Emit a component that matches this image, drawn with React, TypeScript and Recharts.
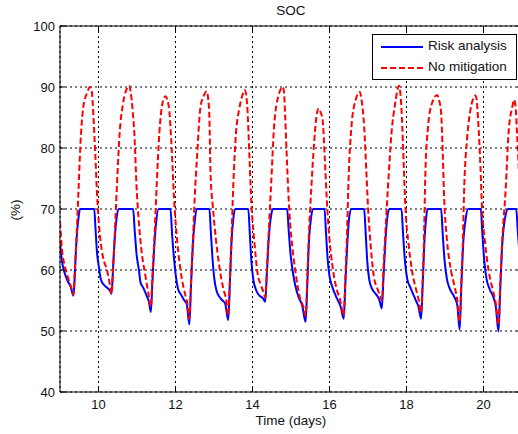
import React from "react";
import { LineChart, Line, XAxis, YAxis, CartesianGrid, ReferenceLine } from "recharts";

// SOC over time, [day, %]
const riskAnalysis: [number, number][] = [
  [9.0, 64.6], [9.05, 61.5], [9.12, 59.5], [9.2, 58.2], [9.28, 57.2], [9.35, 55.8],
  [9.39, 60], [9.43, 65], [9.48, 68.5], [9.52, 70], [9.89, 70],
  [9.92, 67], [9.96, 63], [10.01, 60.5], [10.06, 58.5], [10.15, 57.5], [10.24, 57], [10.3, 56.6], [10.34, 56.1],
  [10.38, 60.5], [10.42, 65], [10.47, 68.5], [10.52, 70], [10.9, 70],
  [10.94, 66.5], [10.99, 62.5], [11.05, 60], [11.09, 58], [11.17, 57], [11.25, 55.8], [11.31, 54.8], [11.36, 53.1],
  [11.4, 58], [11.45, 64], [11.5, 68], [11.56, 70], [11.87, 70],
  [11.91, 66], [11.96, 62], [12.01, 59], [12.07, 56.8], [12.14, 56], [12.23, 55], [12.29, 54.5], [12.36, 51.1],
  [12.4, 57], [12.45, 64], [12.5, 68], [12.55, 70], [12.88, 70],
  [12.92, 66], [12.96, 62], [13.0, 59], [13.07, 56.5], [13.14, 55.6], [13.22, 55], [13.29, 54.5], [13.37, 51.8],
  [13.41, 57.5], [13.45, 64], [13.5, 68.3], [13.55, 70], [13.89, 70],
  [13.93, 66], [13.97, 61.5], [14.02, 58.5], [14.1, 56.6], [14.2, 55.7], [14.27, 55.4], [14.33, 54.8],
  [14.37, 59], [14.42, 65], [14.48, 68.8], [14.53, 70], [14.9, 70],
  [14.94, 66.5], [14.99, 62.5], [15.04, 60], [15.11, 57.5], [15.2, 55.5], [15.29, 54.2], [15.38, 51.5],
  [15.42, 57], [15.46, 64], [15.52, 68.5], [15.57, 70], [15.87, 70],
  [15.91, 66], [15.95, 62], [16.0, 59], [16.07, 57.3], [16.18, 55.5], [16.29, 54], [16.37, 52],
  [16.41, 57.5], [16.46, 64], [16.51, 68.5], [16.57, 70], [16.9, 70],
  [16.94, 66], [16.98, 61.5], [17.03, 58.5], [17.1, 57], [17.21, 56], [17.29, 55.2], [17.36, 53.7],
  [17.4, 58.5], [17.45, 64.5], [17.5, 68.5], [17.55, 70], [17.87, 70],
  [17.91, 66], [17.96, 61.5], [18.02, 58.5], [18.11, 57], [18.23, 55.2], [18.31, 54], [18.38, 52],
  [18.42, 57.5], [18.46, 64], [18.51, 68.5], [18.55, 70], [18.9, 70],
  [18.94, 66], [18.99, 61.5], [19.05, 58.5], [19.12, 57], [19.24, 55.6], [19.32, 54.2], [19.38, 50.2],
  [19.42, 56.5], [19.47, 64], [19.54, 68.5], [19.6, 70], [19.93, 70],
  [19.97, 66], [20.02, 61.5], [20.08, 58.5], [20.15, 57], [20.26, 55.5], [20.32, 54], [20.39, 49.9],
  [20.43, 56], [20.48, 63.5], [20.56, 68.5], [20.64, 70], [20.85, 70],
  [20.89, 66.5], [20.94, 62.5], [21.0, 60],
];

const noMitigation: [number, number][] = [
  [9.0, 67.9], [9.05, 63.5], [9.13, 60.5], [9.22, 58.5], [9.3, 57], [9.35, 56],
  [9.39, 60.5], [9.43, 65.5], [9.48, 73], [9.53, 80.5], [9.6, 86.5], [9.7, 89], [9.78, 90], [9.82, 89.5],
  [9.87, 85], [9.92, 78.5], [9.97, 71.5], [10.04, 65.5], [10.12, 62], [10.22, 60], [10.3, 57.5], [10.34, 56.1],
  [10.38, 60.5], [10.42, 65.5], [10.48, 74], [10.55, 82.5], [10.63, 87], [10.72, 89.5], [10.8, 90.2], [10.84, 89],
  [10.89, 86], [10.93, 82.5], [10.99, 73.5], [11.04, 68.5], [11.12, 63], [11.22, 59], [11.3, 56], [11.36, 54],
  [11.4, 59], [11.45, 65], [11.51, 73.7], [11.58, 82.4], [11.66, 87.3], [11.74, 88.5], [11.78, 88],
  [11.84, 86], [11.9, 80], [11.96, 72], [12.04, 65], [12.13, 60], [12.25, 56], [12.31, 54.5], [12.36, 52],
  [12.4, 57.5], [12.45, 64.5], [12.5, 72], [12.56, 78.6], [12.65, 86.8], [12.73, 88.5], [12.81, 89.3], [12.85, 88],
  [12.88, 85.1], [12.91, 75.8], [12.97, 70.4], [13.05, 65], [13.14, 60.5], [13.24, 57], [13.32, 55], [13.37, 52.5],
  [13.41, 58], [13.45, 64.5], [13.5, 73.7], [13.57, 82.4], [13.65, 86.2], [13.73, 88.5], [13.8, 89.5], [13.84, 88.5],
  [13.87, 86.2], [13.92, 78.6], [13.97, 71], [14.05, 64.5], [14.13, 59.5], [14.22, 57.5], [14.29, 56.3], [14.33, 55.5],
  [14.37, 59.5], [14.42, 66], [14.49, 74.8], [14.56, 83.5], [14.68, 88.7], [14.79, 90], [14.82, 89],
  [14.85, 85], [14.9, 77], [14.96, 69.3], [15.04, 63.5], [15.12, 59.5], [15.23, 55.5], [15.32, 54], [15.38, 52.5],
  [15.42, 58], [15.46, 65], [15.53, 73.7], [15.6, 80.8], [15.66, 85.1], [15.72, 86.5], [15.76, 86],
  [15.82, 84.6], [15.88, 78], [15.93, 71.5], [16.0, 65], [16.08, 60.5], [16.18, 57], [16.28, 55], [16.37, 52.5],
  [16.41, 58.5], [16.45, 65], [16.5, 75.8], [16.57, 83.5], [16.68, 87.9], [16.79, 89.2], [16.83, 88],
  [16.9, 83.5], [16.96, 75.8], [17.0, 70.4], [17.07, 64], [17.15, 59], [17.24, 57], [17.31, 55.8], [17.36, 55],
  [17.4, 60], [17.45, 66], [17.52, 73.7], [17.61, 82.4], [17.7, 87.1], [17.81, 90.2], [17.84, 89],
  [17.88, 85.1], [17.93, 77], [17.97, 70.4], [18.05, 64.5], [18.14, 60], [18.24, 57], [18.32, 55], [18.38, 53],
  [18.42, 58.5], [18.45, 64], [18.49, 75.8], [18.56, 83.5], [18.66, 87.3], [18.8, 88.7], [18.84, 88],
  [18.9, 85.7], [18.94, 79.3], [18.98, 71.5], [19.05, 65], [19.14, 60.5], [19.24, 57.5], [19.32, 55], [19.38, 51.5],
  [19.42, 57.5], [19.46, 64], [19.5, 73.7], [19.57, 81.3], [19.66, 86.2], [19.79, 88.6], [19.82, 88],
  [19.86, 84.6], [19.92, 77], [19.96, 70.4], [20.04, 64.5], [20.13, 60], [20.23, 57], [20.32, 54.5], [20.39, 51],
  [20.43, 57], [20.48, 64], [20.58, 73.7], [20.65, 82.4], [20.75, 86.8], [20.79, 87.9], [20.83, 87],
  [20.87, 82.4], [20.93, 75], [21.0, 69],
];

const xTicks = [10, 12, 14, 16, 18, 20];
const yTicks = [40, 50, 60, 70, 80, 90, 100];

const FONT = "'Liberation Sans', Arial, sans-serif";
// plot box in page pixels
const PLOT = { left: 60, top: 26, right: 522, bottom: 392 };

const riskData = riskAnalysis.map(([t, v]) => ({ t, v }));
const noMitData = noMitigation.map(([t, v]) => ({ t, v }));

const XTick = (props: any) => {
  const { x, payload } = props;
  return (
    <g>
      <line x1={x} x2={x} y1={PLOT.bottom} y2={PLOT.bottom - 5} stroke="#000" />
      <line x1={x} x2={x} y1={PLOT.top} y2={PLOT.top + 5} stroke="#000" />
      <text x={x} y={PLOT.bottom + 17} textAnchor="middle" fontSize={13} fontFamily={FONT} fill="#111">
        {payload.value}
      </text>
    </g>
  );
};

const YTick = (props: any) => {
  const { y, payload } = props;
  return (
    <g>
      <line x1={PLOT.left} x2={PLOT.left + 5} y1={y} y2={y} stroke="#000" />
      <line x1={PLOT.right} x2={PLOT.right - 5} y1={y} y2={y} stroke="#000" />
      <text x={PLOT.left - 5} y={y} dy="0.36em" textAnchor="end" fontSize={13} fontFamily={FONT} fill="#111">
        {payload.value}
      </text>
    </g>
  );
};

export default function App() {
  return (
    <div
      style={{
        position: "absolute",
        left: 0,
        top: 0,
        width: 518,
        height: 434,
        overflow: "hidden",
        background: "#fff",
        fontFamily: FONT,
      }}
    >
      <LineChart width={540} height={434} margin={{ top: 26, right: 18, bottom: 12, left: 0 }}>
        <CartesianGrid stroke="#000" strokeDasharray="2 3" />
        <XAxis
          type="number"
          dataKey="t"
          domain={[9, 21]}
          ticks={xTicks}
          allowDataOverflow
          height={30}
          tickLine={false}
          axisLine={{ stroke: "#000" }}
          tick={<XTick />}
        />
        <YAxis
          type="number"
          domain={[40, 100]}
          ticks={yTicks}
          width={60}
          tickLine={false}
          axisLine={{ stroke: "#000" }}
          tick={<YTick />}
        />
        <ReferenceLine y={100} stroke="#000" />
        <Line
          data={riskData}
          dataKey="v"
          type="monotone"
          stroke="#0000ff"
          strokeWidth={2}
          dot={false}
          isAnimationActive={false}
        />
        <Line
          data={noMitData}
          dataKey="v"
          type="monotone"
          stroke="#ff0000"
          strokeWidth={2}
          strokeDasharray="6 3"
          dot={false}
          isAnimationActive={false}
        />
      </LineChart>

      <div style={{ position: "absolute", left: 0, width: 582, top: 3, textAlign: "center", fontSize: 13.5, color: "#111" }}>
        SOC
      </div>
      <div style={{ position: "absolute", left: 0, width: 582, top: 413, textAlign: "center", fontSize: 13.5, color: "#111" }}>
        Time (days)
      </div>
      <div
        style={{
          position: "absolute",
          left: 15,
          top: 210,
          transform: "translate(-50%, -50%) rotate(-90deg)",
          fontSize: 13.5,
          color: "#111",
          whiteSpace: "nowrap",
        }}
      >
        (%)
      </div>

      <div
        style={{
          position: "absolute",
          left: 372,
          top: 34,
          width: 143,
          height: 44,
          border: "1px solid #000",
          background: "#fff",
          fontSize: 13.5,
          color: "#111",
        }}
      >
        <svg width={143} height={44} style={{ position: "absolute", left: 0, top: 0 }}>
          <line x1={8} x2={50} y1={12} y2={12} stroke="#0000ff" strokeWidth={2} />
          <line x1={8} x2={50} y1={33} y2={33} stroke="#ff0000" strokeWidth={2} strokeDasharray="6 3" />
        </svg>
        <div style={{ position: "absolute", left: 55, top: 3, whiteSpace: "nowrap" }}>Risk analysis</div>
        <div style={{ position: "absolute", left: 55, top: 24, whiteSpace: "nowrap" }}>No mitigation</div>
      </div>
    </div>
  );
}
